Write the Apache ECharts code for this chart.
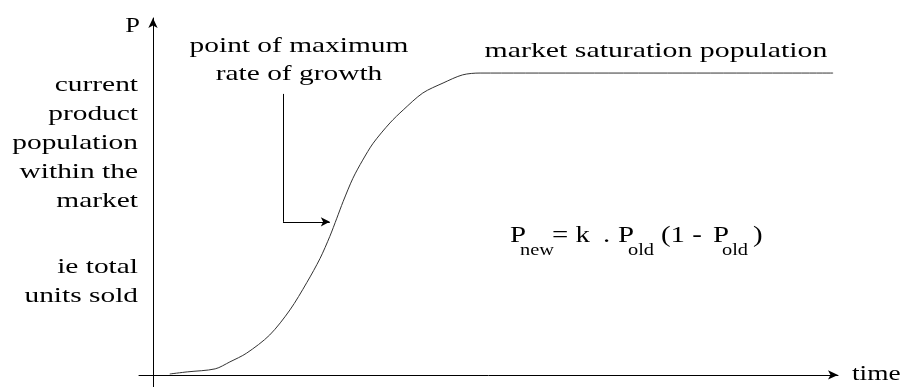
<!DOCTYPE html>
<html>
<head>
<meta charset="utf-8">
<title>Market saturation curve</title>
<script src="https://cdn.jsdelivr.net/npm/echarts@6/dist/echarts.min.js"></script>
<style>
  html, body { margin: 0; padding: 0; background: #fff; }
  #chart { width: 901px; height: 387px; }
</style>
</head>
<body>
<div id="chart"></div>
<script>
// time axis values of the sketched curve (y axis sits at t = 0)
var timeValues = [2.4, 4.9, 8.9, 11.0, 13.4, 16.7, 19.6, 22.0, 23.9, 25.3, 26.3, 27.2, 28.6, 30.0, 31.5, 33.9, 35.8, 38.6, 41.5, 44.3, 46.8, 97.3]
// product population, 100 = market saturation
var popValues = [0.3, 1.0, 2.0, 4.3, 7.2, 13.2, 21.5, 30.5, 38.5, 45.8, 51.8, 57.3, 65.0, 71.0, 76.6, 83.3, 87.6, 93.2, 96.5, 99.2, 99.8, 99.8]
// bent pointer to the point of maximum growth
var pointerPath = [[18.6, 92.9], [18.6, 50.6], [25.3, 50.6]]

var leftLabel = ['current', 'product', 'population', 'within the', 'market']
var leftNote = ['ie total', 'units sold']

var chart = echarts.init(document.getElementById('chart'))

function txt(x, y, text, size, align, sx, lh) {
  return {
    type: 'text',
    x: x,
    y: y,
    scaleX: sx,
    silent: true,
    style: {
      text: text,
      font: 'normal normal ' + size + 'px "Liberation Serif"',
      fill: '#000',
      align: align,
      verticalAlign: 'middle',
      lineHeight: lh || size
    }
  }
}

chart.setOption({
  animation: false,
  backgroundColor: '#fff',
  grid: {
    left: 139,
    right: 63,
    top: 18,
    bottom: 0
  },
  xAxis: {
    type: 'value',
    min: -2,
    max: 98,
    axisLine: {
      symbol: ['none', 'arrow'],
      symbolSize: [7, 10],
      lineStyle: { color: '#000', width: 1 }
    },
    axisTick: { show: false },
    axisLabel: { show: false },
    splitLine: { show: false }
  },
  yAxis: {
    type: 'value',
    min: -4,
    max: 118,
    axisLine: {
      symbol: ['none', 'arrow'],
      symbolSize: [7, 10],
      lineStyle: { color: '#000', width: 1 }
    },
    axisTick: { show: false },
    axisLabel: { show: false },
    splitLine: { show: false }
  },
  series: [{
    type: 'line',
    data: timeValues.map(function(t, i) { return [t, popValues[i]] }),
    showSymbol: false,
    smooth: 0.3,
    lineStyle: { color: '#333', width: 1 },
    markLine: {
      silent: true,
      symbolSize: [7, 9],
      label: { show: false },
      lineStyle: { color: '#000', width: 1, type: 'solid' },
      data: [
        [{ coord: pointerPath[0], symbol: 'none' }, { coord: pointerPath[1], symbol: 'none' }],
        [{ coord: pointerPath[1], symbol: 'none' }, { coord: pointerPath[2], symbol: 'arrow' }]
      ]
    }
  }],
  graphic: [
    txt(140, 26, 'P', 22, 'right', 1.2),
    txt(138, 143.5, leftLabel.join('\n'), 21, 'right', 1.4, 29),
    txt(138, 281.5, leftNote.join('\n'), 21, 'right', 1.4, 29),
    txt(299, 60, 'point of maximum\nrate of growth', 21, 'center', 1.4, 28),
    txt(656, 51, 'market saturation population', 21, 'center', 1.42),
    txt(852, 374, 'time', 21, 'left', 1.3),
    // P_new = k . P_old (1 - P_old)
    txt(510, 236, 'P', 24, 'left', 1.2),
    txt(520, 251, 'new', 17, 'left', 1.2),
    txt(552, 236, '= k', 24, 'left', 1.2),
    txt(603, 236, '.', 24, 'left', 1.2),
    txt(618, 236, 'P', 24, 'left', 1.2),
    txt(628, 251, 'old', 17, 'left', 1.2),
    txt(661, 236, '(1 -', 24, 'left', 1.2),
    txt(713, 236, 'P', 24, 'left', 1.2),
    txt(722, 251, 'old', 17, 'left', 1.2),
    txt(753, 236, ')', 24, 'left', 1.2)
  ]
})
</script>
</body>
</html>
